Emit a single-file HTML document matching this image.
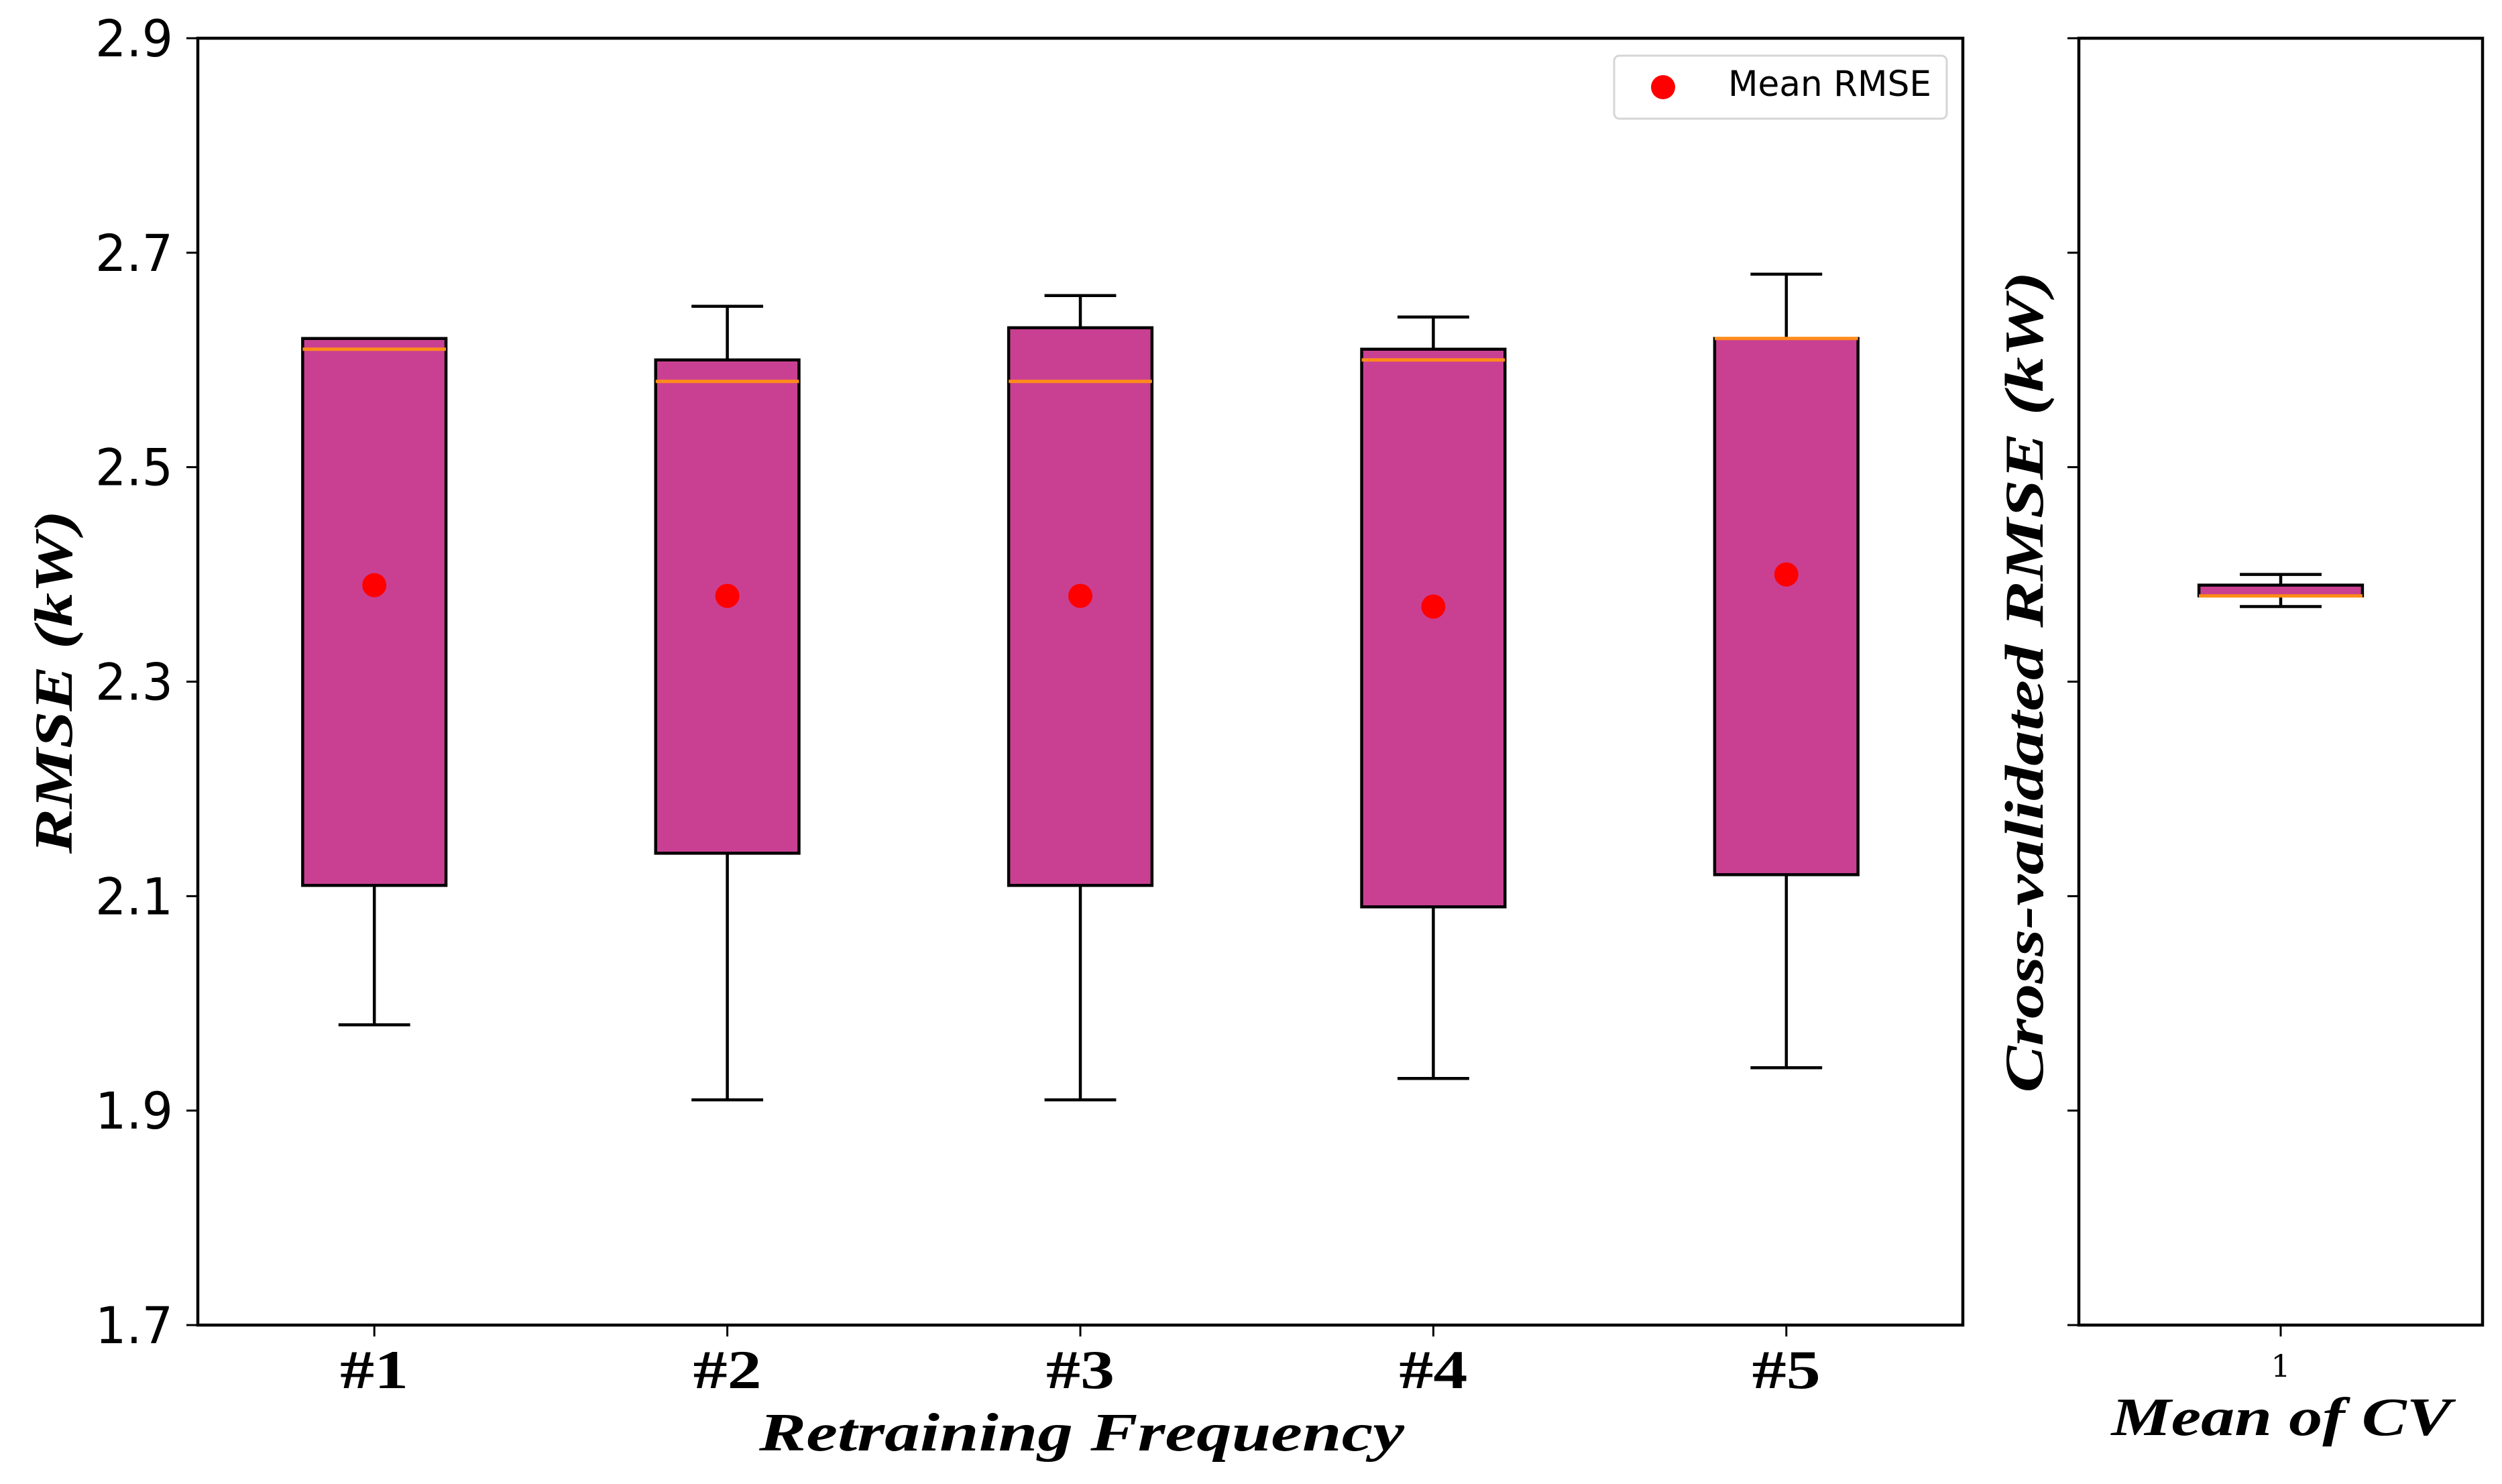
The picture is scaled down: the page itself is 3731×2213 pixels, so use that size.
<!DOCTYPE html>
<html><head><meta charset="utf-8"><style>
html,body{margin:0;padding:0;background:#fff;}
svg{display:block;}
</style></head><body>
<svg id="chart" width="3731" height="2213" viewBox="0 0 3731 2213" xmlns="http://www.w3.org/2000/svg">
<g id="main"></g>
<g id="side"></g>
</svg>
<script>
const categories = ["#1","#2","#3","#4","#5"];
const whiskerLow = [1.98,1.91,1.91,1.93,1.94];
const q1 = [2.11,2.14,2.11,2.09,2.12];
const median = [2.61,2.58,2.58,2.60,2.62];
const q3 = [2.62,2.60,2.63,2.61,2.62];
const whiskerHigh = [2.62,2.65,2.66,2.64,2.68];
const meanRmse = [2.39,2.38,2.38,2.37,2.40];
const yTicks = [1.7,1.9,2.1,2.3,2.5,2.7,2.9];
const yTickLabels = ["1.7","1.9","2.1","2.3","2.5","2.7","2.9"];
const cvCategories = ["1"];
const cvWhiskerLow = [2.37];
const cvQ1 = [2.38];
const cvMedian = [2.38];
const cvQ3 = [2.39];
const cvWhiskerHigh = [2.40];

const NS="http://www.w3.org/2000/svg";
function mk(parent,tag,attrs,text){const e=document.createElementNS(NS,tag);for(const k in attrs)e.setAttribute(k,attrs[k]);if(text!==undefined)e.textContent=text;parent.appendChild(e);return e;}
const top_=57, bot=1976, yMin=1.7, yMax=2.9;
const y=v=>bot-(v-yMin)/(yMax-yMin)*(bot-top_);
const main=document.getElementById('main'), side=document.getElementById('side');
const L={x0:295,x1:2927}, R={x0:3100,x1:3702};
const xm=i=>L.x0+(i+0.5)/categories.length*(L.x1-L.x0);
const xs=i=>R.x0+(i+0.5)/cvCategories.length*(R.x1-R.x0);
const FILL="#c94093", MED="#ff8c1a", SERIF='"Liberation Serif", "DejaVu Serif", serif', SANS='"DejaVu Sans", "Liberation Sans", sans-serif';

function drawBox(g,cx,bw,lo,a,m,b,hi,name,lw){
  let e;
  e=mk(g,'line',{x1:cx,x2:cx,y1:y(lo),y2:y(a),stroke:'#000','stroke-width':lw});
  
  e=mk(g,'line',{x1:cx,x2:cx,y1:y(b),y2:y(hi),stroke:'#000','stroke-width':lw});
  
  e=mk(g,'line',{x1:cx-bw/4,x2:cx+bw/4,y1:y(lo),y2:y(lo),stroke:'#000','stroke-width':lw});
  
  e=mk(g,'line',{x1:cx-bw/4,x2:cx+bw/4,y1:y(hi),y2:y(hi),stroke:'#000','stroke-width':lw});
  
  e=mk(g,'rect',{x:cx-bw/2,y:y(b),width:bw,height:Math.max(1,y(a)-y(b)),fill:FILL,stroke:'#000','stroke-width':lw});
  
  e=mk(g,'line',{x1:cx-bw/2,x2:cx+bw/2,y1:y(m),y2:y(m),stroke:MED,'stroke-width':5});
  
}
const bwM=0.406*(L.x1-L.x0)/categories.length;
categories.forEach((c,i)=>{
  const g=mk(main,'g',{});
  
  drawBox(g,xm(i),bwM,whiskerLow[i],q1[i],median[i],q3[i],whiskerHigh[i],'box-'+(i+1),4.5);
  const d=mk(g,'circle',{cx:xm(i),cy:y(meanRmse[i]),r:18,fill:'#ff0000'});
  
  const t=mk(main,'line',{x1:xm(i),x2:xm(i),y1:bot,y2:bot+17,stroke:'#000','stroke-width':3});
  
  const tl=mk(main,'text',{x:xm(i),y:2070,'text-anchor':'middle','font-family':SERIF,'font-weight':'bold','font-size':82,textLength:102,lengthAdjust:'spacingAndGlyphs'},c);
  
});
yTicks.forEach((v,i)=>{
  const t=mk(main,'line',{x1:L.x0-17,x2:L.x0,y1:y(v),y2:y(v),stroke:'#000','stroke-width':3});
  
  const tl=mk(main,'text',{x:258,y:y(v)+27,'text-anchor':'end','font-family':SANS,'font-size':76,textLength:116,lengthAdjust:'spacingAndGlyphs'},yTickLabels[i]);
  
  const t2=mk(side,'line',{x1:R.x0-17,x2:R.x0,y1:y(v),y2:y(v),stroke:'#000','stroke-width':3});
  
});
let fr=mk(main,'rect',{x:L.x0,y:top_,width:L.x1-L.x0,height:bot-top_,fill:'none',stroke:'#000','stroke-width':4.5});

const lg=mk(main,'g',{});

let e=mk(lg,'rect',{x:2407,y:83,width:496,height:94,rx:8,fill:'#fff',stroke:'#d6d6d6','stroke-width':3});

e=mk(lg,'circle',{cx:2480,cy:130,r:18,fill:'#ff0000'});

e=mk(lg,'text',{x:2577,y:143,'font-family':SANS,'font-size':53,textLength:303,lengthAdjust:'spacingAndGlyphs'},'Mean RMSE');

e=mk(main,'text',{x:1613,y:2163,'text-anchor':'middle','font-family':SERIF,'font-weight':'bold','font-style':'italic','font-size':80,textLength:962,lengthAdjust:'spacingAndGlyphs'},'Retraining Frequency');

e=mk(main,'text',{x:0,y:0,'text-anchor':'middle','font-family':SERIF,'font-weight':'bold','font-style':'italic','font-size':80,textLength:512,lengthAdjust:'spacingAndGlyphs',transform:'translate(107,1017) rotate(-90)'},'RMSE (kW)');

const bwS=0.405*(R.x1-R.x0);
cvCategories.forEach((c,i)=>{
  const g=mk(side,'g',{});
  
  drawBox(g,xs(i),bwS,cvWhiskerLow[i],cvQ1[i],cvMedian[i],cvQ3[i],cvWhiskerHigh[i],'cv-box',4.5);
  const t=mk(side,'line',{x1:xs(i),x2:xs(i),y1:bot,y2:bot+17,stroke:'#000','stroke-width':3});
  
  const tl=mk(side,'text',{x:xs(i),y:2053,'text-anchor':'middle','font-family':'"DejaVu Serif", serif','font-size':46},c);
  
});
fr=mk(side,'rect',{x:R.x0,y:top_,width:R.x1-R.x0,height:bot-top_,fill:'none',stroke:'#000','stroke-width':4.5});

e=mk(side,'text',{x:3402,y:2140,'text-anchor':'middle','font-family':SERIF,'font-weight':'bold','font-style':'italic','font-size':80,textLength:507,lengthAdjust:'spacingAndGlyphs'},'Mean of CV');

e=mk(side,'text',{x:0,y:0,'text-anchor':'middle','font-family':SERIF,'font-weight':'bold','font-style':'italic','font-size':82,textLength:1225,lengthAdjust:'spacingAndGlyphs',transform:'translate(3046,1017) rotate(-90)'},'Cross-validated RMSE (kW)');

</script>
</body></html>
